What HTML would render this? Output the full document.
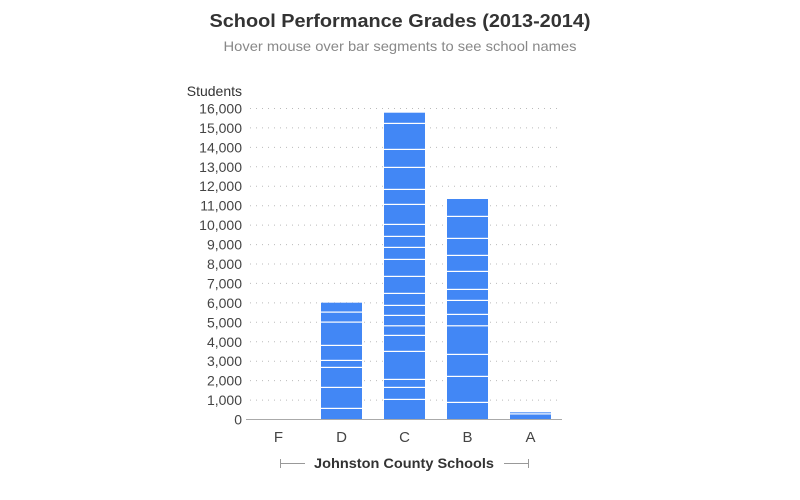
<!DOCTYPE html>
<html><head><meta charset="utf-8"><style>
html,body{margin:0;padding:0;background:#fff}
svg{display:block;font-family:"Liberation Sans",sans-serif}
</style></head><body>
<svg width="800" height="500" viewBox="0 0 800 500" xmlns="http://www.w3.org/2000/svg">
<text x="400" y="27" text-anchor="middle" font-size="18" font-weight="bold" fill="#333" textLength="381" lengthAdjust="spacingAndGlyphs">School Performance Grades (2013-2014)</text>
<text x="400" y="51" text-anchor="middle" font-size="14" fill="#888" textLength="353" lengthAdjust="spacingAndGlyphs">Hover mouse over bar segments to see school names</text>
<text x="242" y="96" text-anchor="end" font-size="14" fill="#333">Students</text>
<g stroke="#bbb" stroke-width="1" stroke-dasharray="1,5">
<line x1="250" x2="562" y1="108.5" y2="108.5"/><line x1="250" x2="562" y1="127.9" y2="127.9"/><line x1="250" x2="562" y1="147.4" y2="147.4"/><line x1="250" x2="562" y1="166.8" y2="166.8"/><line x1="250" x2="562" y1="186.2" y2="186.2"/><line x1="250" x2="562" y1="205.7" y2="205.7"/><line x1="250" x2="562" y1="225.1" y2="225.1"/><line x1="250" x2="562" y1="244.6" y2="244.6"/><line x1="250" x2="562" y1="264" y2="264"/><line x1="250" x2="562" y1="283.4" y2="283.4"/><line x1="250" x2="562" y1="302.9" y2="302.9"/><line x1="250" x2="562" y1="322.3" y2="322.3"/><line x1="250" x2="562" y1="341.8" y2="341.8"/><line x1="250" x2="562" y1="361.2" y2="361.2"/><line x1="250" x2="562" y1="380.6" y2="380.6"/><line x1="250" x2="562" y1="400.1" y2="400.1"/>
</g>
<g font-size="14" fill="#444" text-anchor="end">
<text x="242" y="113.5">16,000</text><text x="242" y="132.9">15,000</text><text x="242" y="152.4">14,000</text><text x="242" y="171.8">13,000</text><text x="242" y="191.2">12,000</text><text x="242" y="210.7">11,000</text><text x="242" y="230.1">10,000</text><text x="242" y="249.6">9,000</text><text x="242" y="269">8,000</text><text x="242" y="288.4">7,000</text><text x="242" y="307.9">6,000</text><text x="242" y="327.3">5,000</text><text x="242" y="346.8">4,000</text><text x="242" y="366.2">3,000</text><text x="242" y="385.6">2,000</text><text x="242" y="405.1">1,000</text><text x="242" y="424.5">0</text>
</g>
<g fill="#4287f5">
<rect x="321" y="302.7" width="41" height="116.3"/>
<rect x="384" y="112.7" width="41" height="306.3"/>
<rect x="447" y="199" width="41" height="220"/>
<rect x="510" y="412.3" width="41" height="6.7"/>
</g>
<g fill="#fff">
<rect x="321" y="311.5" width="41" height="1.2"/><rect x="321" y="321.5" width="41" height="1.2"/><rect x="321" y="344.8" width="41" height="1.2"/><rect x="321" y="359.8" width="41" height="1.2"/><rect x="321" y="366.8" width="41" height="1.2"/><rect x="321" y="386.8" width="41" height="1.2"/><rect x="321" y="407.8" width="41" height="1.2"/>
<rect x="384" y="122.8" width="41" height="1.2"/><rect x="384" y="148.8" width="41" height="1.2"/><rect x="384" y="166.8" width="41" height="1.2"/><rect x="384" y="188.8" width="41" height="1.2"/><rect x="384" y="203.8" width="41" height="1.2"/><rect x="384" y="223.8" width="41" height="1.2"/><rect x="384" y="235.8" width="41" height="1.2"/><rect x="384" y="246.8" width="41" height="1.2"/><rect x="384" y="258.8" width="41" height="1.2"/><rect x="384" y="275.8" width="41" height="1.2"/><rect x="384" y="292.8" width="41" height="1.2"/><rect x="384" y="304.8" width="41" height="1.2"/><rect x="384" y="314.8" width="41" height="1.2"/><rect x="384" y="325.2" width="41" height="1.2"/><rect x="384" y="334.8" width="41" height="1.2"/><rect x="384" y="350.8" width="41" height="1.2"/><rect x="384" y="378.8" width="41" height="1.2"/><rect x="384" y="386.8" width="41" height="1.2"/><rect x="384" y="398.8" width="41" height="1.2"/>
<rect x="447" y="215.8" width="41" height="1.2"/><rect x="447" y="237.8" width="41" height="1.2"/><rect x="447" y="254.8" width="41" height="1.2"/><rect x="447" y="270.8" width="41" height="1.2"/><rect x="447" y="288.8" width="41" height="1.2"/><rect x="447" y="299.8" width="41" height="1.2"/><rect x="447" y="313.8" width="41" height="1.2"/><rect x="447" y="325.2" width="41" height="1.2"/><rect x="447" y="353.8" width="41" height="1.2"/><rect x="447" y="375.8" width="41" height="1.2"/><rect x="447" y="401.8" width="41" height="1.2"/>
<rect x="510" y="413.3" width="41" height="1.2"/>
</g>
<line x1="246" x2="562" y1="419.5" y2="419.5" stroke="#aaa" stroke-width="1"/>
<g font-size="15" fill="#444" text-anchor="middle">
<text x="278.5" y="442">F</text><text x="341.5" y="442">D</text><text x="404.5" y="442">C</text><text x="467.5" y="442">B</text><text x="530.5" y="442">A</text>
</g>
<g stroke="#999" stroke-width="1">
<line x1="280" x2="305" y1="463.5" y2="463.5"/><line x1="280.5" x2="280.5" y1="459" y2="468"/>
<line x1="504" x2="529" y1="463.5" y2="463.5"/><line x1="528.5" x2="528.5" y1="459" y2="468"/>
</g>
<text x="404" y="468" text-anchor="middle" font-size="14" font-weight="bold" fill="#333" textLength="180" lengthAdjust="spacingAndGlyphs">Johnston County Schools</text>
</svg>
</body></html>
